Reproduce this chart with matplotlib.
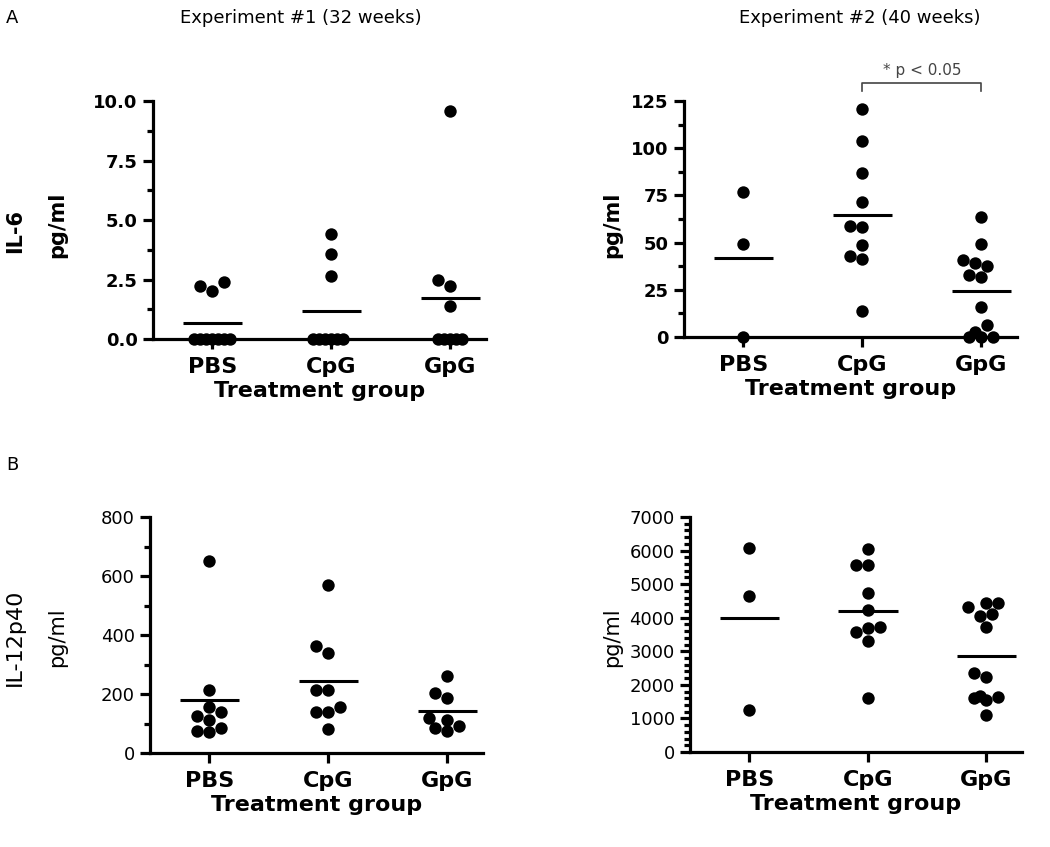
import matplotlib
matplotlib.use("Agg")
import matplotlib.pyplot as plt
import numpy as np
from matplotlib.ticker import MultipleLocator, FormatStrFormatter

plt.rcParams["font.family"] = ["DejaVu Sans"]

groups = ["PBS", "CpG", "GpG"]

# IL-6, experiment 1 (32 weeks), pg/ml
il6_exp1 = {
    "PBS": [2.21, 2.01, 2.41, 0, 0, 0, 0, 0, 0, 0],
    "CpG": [3.59, 2.63, 4.41, 0, 0, 0, 0, 0, 0],
    "GpG": [9.58, 2.24, 2.46, 1.39, 0, 0, 0, 0, 0],
}
# IL-6, experiment 2 (40 weeks)
il6_exp2 = {
    "PBS": [76.8, 49.5, 0],
    "CpG": [121, 104, 87, 71.5, 58, 59, 48.6, 42.8, 41.5, 13.7],
    "GpG": [63.4, 49.3, 40.6, 39.2, 37.5, 33.1, 31.8, 15.8, 6.5, 2.9, 0, 0, 0],
}
# IL-12p40, experiment 1
il12_exp1 = {
    "PBS": [652, 212, 155, 138, 125, 112, 86, 76, 72],
    "CpG": [571, 339, 364, 212, 212, 138, 156, 138, 81],
    "GpG": [261, 203, 186, 118, 112, 92, 73, 86],
}
# IL-12p40, experiment 2
il12_exp2 = {
    "PBS": [6080, 4640, 1260],
    "CpG": [6060, 5580, 5580, 4740, 4230, 3730, 3560, 3680, 3310, 1620],
    "GpG": [4430, 4050, 4310, 4430, 4110, 3730, 2220, 2340, 1600, 1670, 1630, 1550, 1100],
}


def swarm(ax, xc, vals, diam=12.0, max_px=22.0):
    """Spread points sideways (in pixels) so they do not overlap, beeswarm-like."""
    pts = ax.transData.transform(np.column_stack([np.full(len(vals), xc), vals]))
    ys = pts[:, 1]
    step = diam / 2
    cands = [0.0]
    k = 1
    while k * step <= max_px:
        cands += [-k * step, k * step]
        k += 1
    placed = []
    offs = np.zeros(len(vals))
    for i in np.argsort(ys, kind="stable"):
        best, bestd = 0.0, -1
        for c in cands:
            d = min((np.hypot(c - px, ys[i] - py) for px, py in placed), default=np.inf)
            if d >= diam * 0.95:
                best = c
                break
            if d > bestd:
                best, bestd = c, d
        offs[i] = best
        placed.append((best, ys[i]))
    px_per_unit = ax.transData.transform([[1, 0]])[0, 0] - ax.transData.transform([[0, 0]])[0, 0]
    return xc + offs / px_per_unit


def panel(rect, data, ymax, major, minor, fmt, bold):
    ax = fig.add_axes(rect)
    ax.set_xlim(0.5, 3.3)
    ax.set_ylim(0, ymax)
    for s in ["top", "right"]:
        ax.spines[s].set_visible(False)
    for s in ["left", "bottom"]:
        ax.spines[s].set_linewidth(2.3)
    ax.yaxis.set_major_locator(MultipleLocator(major))
    ax.yaxis.set_minor_locator(MultipleLocator(minor))
    ax.yaxis.set_major_formatter(FormatStrFormatter(fmt))
    ax.tick_params(axis="y", which="major", length=7, width=2.3, labelsize=13, pad=4)
    ax.tick_params(axis="y", which="minor", length=4, width=2.3)
    ax.tick_params(axis="x", length=7, width=2.3, labelsize=16, pad=6)
    ax.set_xticks([1, 2, 3])
    ax.set_xticklabels(groups, fontweight="bold")
    if bold:
        for t in ax.get_yticklabels():
            t.set_fontweight("bold")
    ax.set_xlabel("Treatment group", fontsize=16, fontweight="bold", labelpad=3)
    for i, g in enumerate(groups, start=1):
        vals = np.array(data[g], dtype=float)
        xs = swarm(ax, i, vals)
        ax.scatter(xs, vals, s=80, color="black", zorder=3, clip_on=False, linewidths=0)
        m = vals.mean()
        ax.plot([i - 0.25, i + 0.25], [m, m], color="black", lw=2.2, zorder=4, solid_capstyle="butt")
    return ax


fig = plt.figure(figsize=(10.5, 8.47), dpi=100)
W, H = 1050, 847


def rect(x0, x1, ytop, ybot):
    return [x0 / W, 1 - ybot / H, (x1 - x0) / W, (ybot - ytop) / H]


ax1 = panel(rect(153, 486, 101, 339), il6_exp1, 10, 2.5, 1.25, "%.1f", True)
ax2 = panel(rect(684, 1017, 101, 337), il6_exp2, 125, 25, 12.5, "%d", True)
ax3 = panel(rect(150, 483, 517, 753), il12_exp1, 800, 200, 100, "%d", False)
ax4 = panel(rect(690, 1022, 517, 752), il12_exp2, 7000, 1000, 200, "%d", False)

# significance bracket between CpG and GpG
ax2.plot([2, 2, 3, 3], [130.5, 134.5, 134.5, 130.5], color="#444444", lw=1.2, clip_on=False)
ax2.text(2.5, 137, "* p < 0.05", ha="center", va="bottom", fontsize=11, color="#444444")

fig.text(301 / W, 1 - 18 / H, "Experiment #1 (32 weeks)", ha="center", va="center", fontsize=13)
fig.text(860 / W, 1 - 18 / H, "Experiment #2 (40 weeks)", ha="center", va="center", fontsize=13)
fig.text(12 / W, 1 - 18 / H, "A", ha="center", va="center", fontsize=13)
fig.text(12 / W, 1 - 465 / H, "B", ha="center", va="center", fontsize=13)

fig.text(15 / W, 1 - 231 / H, "IL-6", rotation=90, ha="center", va="center", fontsize=15, fontweight="bold")
fig.text(57 / W, 1 - 225 / H, "pg/ml", rotation=90, ha="center", va="center", fontsize=15, fontweight="bold")
fig.text(612 / W, 1 - 225 / H, "pg/ml", rotation=90, ha="center", va="center", fontsize=15, fontweight="bold")
fig.text(15 / W, 1 - 637 / H, "IL-12p40", rotation=90, ha="center", va="center", fontsize=16)
fig.text(57 / W, 1 - 637 / H, "pg/ml", rotation=90, ha="center", va="center", fontsize=15)
fig.text(612 / W, 1 - 637 / H, "pg/ml", rotation=90, ha="center", va="center", fontsize=15)

fig.savefig("out.png", dpi=100)
plt.close(fig)
